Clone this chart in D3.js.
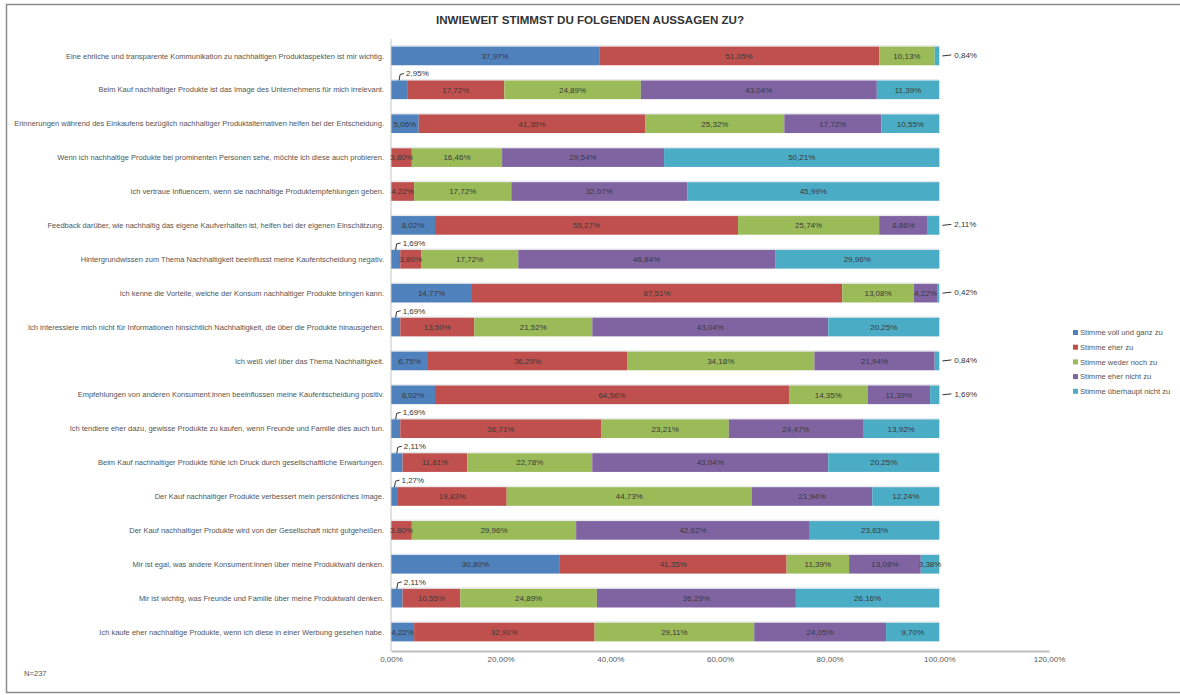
<!DOCTYPE html>
<html>
<head>
<meta charset="utf-8">
<script src="https://cdn.jsdelivr.net/npm/d3@7"></script>
<style>
  body { margin: 0; background: white; }
  svg { display: block; font-family: "Liberation Sans", Arial, sans-serif; }
</style>
</head>
<body>
<svg id="graph" width="1180" height="695"></svg>
<script>
const title = "INWIEWEIT STIMMST DU FOLGENDEN AUSSAGEN ZU?"

const statements = [
  "Eine ehrliche und transparente Kommunikation zu nachhaltigen Produktaspekten ist mir wichtig.",
  "Beim Kauf nachhaltiger Produkte ist das Image des Unternehmens für mich irrelevant.",
  "Erinnerungen während des Einkaufens bezüglich nachhaltiger Produktalternativen helfen bei der Entscheidung.",
  "Wenn ich nachhaltige Produkte bei prominenten Personen sehe, möchte ich diese auch probieren.",
  "Ich vertraue Influencern, wenn sie nachhaltige Produktempfehlungen geben.",
  "Feedback darüber, wie nachhaltig das eigene Kaufverhalten ist, helfen bei der eigenen Einschätzung.",
  "Hintergrundwissen zum Thema Nachhaltigkeit beeinflusst meine Kaufentscheidung negativ.",
  "Ich kenne die Vorteile, welche der Konsum nachhaltiger Produkte bringen kann.",
  "Ich interessiere mich nicht für Informationen hinsichtlich Nachhaltigkeit, die über die Produkte hinausgehen.",
  "Ich weiß viel über das Thema Nachhaltigkeit.",
  "Empfehlungen von anderen Konsument:innen beeinflussen meine Kaufentscheidung positiv.",
  "Ich tendiere eher dazu, gewisse Produkte zu kaufen, wenn Freunde und Familie dies auch tun.",
  "Beim Kauf nachhaltiger Produkte fühle ich Druck durch gesellschaftliche Erwartungen.",
  "Der Kauf nachhaltiger Produkte verbessert mein persönliches Image.",
  "Der Kauf nachhaltiger Produkte wird von der Gesellschaft nicht gutgeheißen.",
  "Mir ist egal, was andere Konsument:innen über meine Produktwahl denken.",
  "Mir ist wichtig, was Freunde und Familie über meine Produktwahl denken.",
  "Ich kaufe eher nachhaltige Produkte, wenn ich diese in einer Werbung gesehen habe."
]

const answers = [
  "Stimme voll und ganz zu",
  "Stimme eher zu",
  "Stimme weder noch zu",
  "Stimme eher nicht zu",
  "Stimme überhaupt nicht zu"
]

// one array per answer, same order as statements
const voll_und_ganz = [37.97, 2.95, 5.06, 0, 0, 8.02, 1.69, 14.77, 1.69, 6.75, 8.02, 1.69, 2.11, 1.27, 0, 30.80, 2.11, 4.22]
const eher_zu = [51.05, 17.72, 41.35, 3.80, 4.22, 55.27, 3.80, 67.51, 13.50, 36.29, 64.56, 36.71, 11.81, 19.83, 3.80, 41.35, 10.55, 32.91]
const weder_noch = [10.13, 24.89, 25.32, 16.46, 17.72, 25.74, 17.72, 13.08, 21.52, 34.18, 14.35, 23.21, 22.78, 44.73, 29.96, 11.39, 24.89, 29.11]
const eher_nicht = [0, 43.04, 17.72, 29.54, 32.07, 8.86, 46.84, 4.22, 43.04, 21.94, 11.39, 24.47, 43.04, 21.94, 42.62, 13.08, 36.29, 24.05]
const ueberhaupt_nicht = [0.84, 11.39, 10.55, 50.21, 45.99, 2.11, 29.96, 0.42, 20.25, 0.84, 1.69, 13.92, 20.25, 12.24, 23.63, 3.38, 26.16, 9.70]

const x_ticks = [0, 20, 40, 60, 80, 100, 120]
const sample_note = "N=237"

const colors = ["#4f81bd", "#c0504d", "#9bbb59", "#8064a2", "#4bacc6"]

const series = [voll_und_ganz, eher_zu, weder_noch, eher_nicht, ueberhaupt_nicht]

const marginTop = 39
const axisY = 651
const marginLeft = 391
const plotRight = 1049

const svg = d3.select("#graph")

// frame round the whole chart
svg.append("rect")
  .attr("x", 6.5).attr("y", 4.5)
  .attr("width", 1190).attr("height", 688)
  .attr("fill", "none")
  .attr("stroke", "#8c8c8c")
  .attr("stroke-width", 1.5)

svg.append("text")
  .attr("x", 590).attr("y", 24)
  .attr("text-anchor", "middle")
  .attr("font-size", 11.6)
  .attr("font-weight", "bold")
  .attr("fill", "#333")
  .text(title)

const x = d3.scaleLinear().domain([0, 120]).range([marginLeft, plotRight])
const y = d3.scaleBand()
  .domain(statements)
  .range([marginTop, axisY - 2])
  .paddingInner(0.45)
  .paddingOuter(0.225)

const fmt = v => d3.format(".2f")(v).replace(".", ",") + "%"

// stack the rows
const rows = statements.map((s, i) => {
  let acc = 0
  const segs = series.map((vals, k) => {
    const seg = { statement: s, k: k, v: vals[i], x0: acc, x1: acc + vals[i] }
    acc += vals[i]
    return seg
  })
  return { statement: s, segs: segs, total: acc }
})

// faint highlight above each bar
svg.append("g").selectAll("rect")
  .data(rows)
  .join("rect")
  .attr("x", x(0))
  .attr("y", r => y(r.statement) - 1.5)
  .attr("width", r => x(r.total) - x(0))
  .attr("height", 1.5)
  .attr("fill", "#e8eaee")

const bars = svg.append("g")
for (const row of rows) {
  bars.selectAll(null)
    .data(row.segs.filter(d => d.v > 0))
    .join("rect")
    .attr("x", d => x(d.x0))
    .attr("y", y(row.statement))
    .attr("width", d => x(d.x1) - x(d.x0))
    .attr("height", y.bandwidth())
    .attr("fill", d => colors[d.k])
}

// axis lines
svg.append("line")
  .attr("x1", marginLeft).attr("x2", marginLeft)
  .attr("y1", marginTop).attr("y2", axisY)
  .attr("stroke", "#c4c4c4").attr("stroke-width", 1)

const x_axis = svg.append("g")
  .attr("transform", `translate(0,${axisY})`)
  .call(d3.axisBottom(x).tickValues(x_ticks).tickSize(0).tickPadding(5).tickFormat(fmt))
x_axis.select(".domain").attr("stroke", "#bfbfbf").attr("stroke-width", 2)
x_axis.selectAll("text")
  .attr("font-size", 8)
  .attr("fill", "#595959")
  .attr("font-family", "Liberation Sans, Arial, sans-serif")

// statement labels
svg.append("g").selectAll("text")
  .data(statements)
  .join("text")
  .attr("x", marginLeft - 7)
  .attr("y", s => y(s) + y.bandwidth() / 2)
  .attr("dy", "0.35em")
  .attr("text-anchor", "end")
  .attr("font-size", 7.5)
  .attr("fill", "#555")
  .text(s => s)

// value labels
const labels = svg.append("g").attr("font-size", 8).attr("fill", "#3a3a3a")
for (const row of rows) {
  const top = y(row.statement)
  const mid = top + y.bandwidth() / 2
  for (const d of row.segs) {
    if (d.v <= 0) continue
    if (d.v < 3 && d.k == 0) {
      // small first segment: leader up and to the right
      const cx = x((d.x0 + d.x1) / 2)
      labels.append("path")
        .attr("d", `M${cx},${top} L${cx + 1},${top - 6} L${cx + 5},${top - 7}`)
        .attr("fill", "none").attr("stroke", "#333").attr("stroke-width", 1)
      labels.append("text")
        .attr("x", cx + 7).attr("y", top - 7)
        .attr("dy", "0.35em")
        .attr("fill", "#333")
        .text(fmt(d.v))
    }
    else if (d.v < 3 && d.k == 4) {
      // small last segment: leader to the right
      const ex = x(d.x1)
      labels.append("line")
        .attr("x1", ex + 3).attr("x2", ex + 12)
        .attr("y1", mid).attr("y2", mid - 1)
        .attr("stroke", "#333").attr("stroke-width", 1)
      labels.append("text")
        .attr("x", ex + 15).attr("y", mid - 1)
        .attr("dy", "0.35em")
        .attr("fill", "#333")
        .text(fmt(d.v))
    }
    else {
      labels.append("text")
        .attr("x", x((d.x0 + d.x1) / 2)).attr("y", mid)
        .attr("dy", "0.35em")
        .attr("text-anchor", "middle")
        .text(fmt(d.v))
    }
  }
}

// legend
const legend = svg.append("g").attr("transform", "translate(1073,333)")
answers.forEach((a, i) => {
  const g = legend.append("g").attr("transform", `translate(0,${i * 14.7})`)
  g.append("rect").attr("x", 0).attr("y", -3).attr("width", 5).attr("height", 5).attr("fill", colors[i])
  g.append("text").attr("x", 7).attr("y", 0).attr("dy", "0.3em")
    .attr("font-size", 7.6).attr("fill", "#555").text(a)
})

svg.append("text")
  .attr("x", 24).attr("y", 673)
  .attr("dy", "0.35em")
  .attr("font-size", 7.6).attr("fill", "#555")
  .text(sample_note)
</script>
</body>
</html>
